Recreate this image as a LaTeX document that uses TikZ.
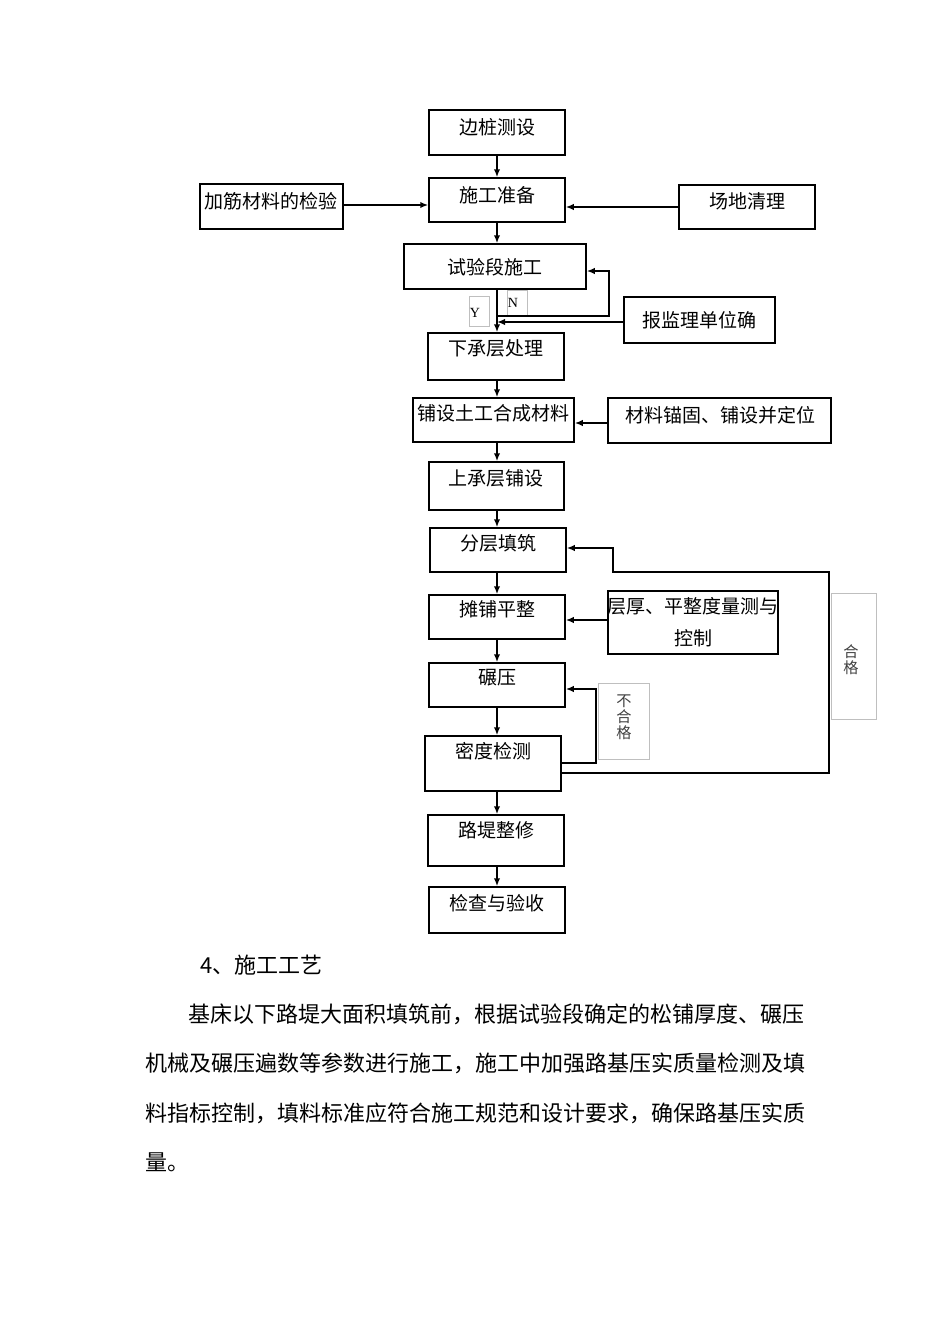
\documentclass[tikz,border=0pt]{standalone}
\usepackage{fontspec}
\setmainfont{Noto Sans CJK SC}
\newfontfamily\serifY{Liberation Serif}
\usetikzlibrary{arrows.meta,fit}
\begin{document}
\begin{tikzpicture}[x=0.5pt,y=-0.5pt,
 box/.style={draw, line width=0.75pt, inner sep=0pt},
 gbox/.style={draw=black!25, line width=0.5pt, inner sep=0pt},
 lbl/.style={font=\fontsize{9.5pt}{11pt}\selectfont, inner sep=0pt},
 vlbl/.style={font=\fontsize{7.6pt}{8pt}\selectfont, inner sep=0pt, align=center, text=black!75},
 yn/.style={font=\serifY\fontsize{7pt}{8pt}\selectfont, inner sep=0pt},
 arr/.style={line width=0.9pt, -{Latex[length=4pt,width=3.2pt]}},
 ln/.style={line width=0.9pt},
 body/.style={font=\fontsize{11pt}{13pt}\selectfont, inner sep=0pt, anchor=west}]
\fill[white] (0,0) rectangle (950,1344);
\useasboundingbox (0,0) rectangle (950,1344);

% boxes
\node[box, fit={(429,110)(565,155)}] (b1) {};
\node[lbl] at (497,127) {边桩测设};
\node[box, fit={(429,178)(565,222)}] (b2) {};
\node[lbl] at (497,195) {施工准备};
\node[box, fit={(200,184)(343,229)}] (jj) {};
\node[lbl] at (271,201) {加筋材料的检验};
\node[box, fit={(679,185)(815,229)}] (cd) {};
\node[lbl] at (747,201) {场地清理};
\node[box, fit={(404,244)(586,289)}] (b3) {};
\node[lbl] at (495,267) {试验段施工};
\node[gbox, fit={(469,296)(489,326)}] (ybox) {};
\node[yn] at (475,313) {Y};
\node[gbox, fit={(507,290)(527,315)}] (nbox) {};
\node[yn] at (513,303) {N};
\node[box, fit={(624,297)(775,343)}] (bj) {};
\node[lbl] at (699,320) {报监理单位确};
\node[box, fit={(428,333)(564,380)}] (b4) {};
\node[lbl] at (496,348) {下承层处理};
\node[box, fit={(413,398)(574,442)}] (b5) {};
\node[lbl] at (493,413) {铺设土工合成材料};
\node[box, fit={(608,398)(831,443)}] (mg) {};
\node[lbl] at (720,415) {材料锚固、铺设并定位};
\node[box, fit={(429,462)(564,510)}] (b6) {};
\node[lbl] at (496,478) {上承层铺设};
\node[box, fit={(430,528)(566,572)}] (b7) {};
\node[lbl] at (498,543) {分层填筑};
\node[box, fit={(429,595)(565,639)}] (b8) {};
\node[lbl] at (497,609) {摊铺平整};
\node[box, fit={(608,591)(778,654)}] (ch) {};
\node[lbl] at (693,606) {层厚、平整度量测与};
\node[lbl] at (693,638) {控制};
\node[box, fit={(429,663)(565,707)}] (b9) {};
\node[lbl] at (497,678) {碾压};
\node[gbox, fit={(598,683)(649,759)}] (bhg) {};
\node[vlbl] at (624,717) {不\\合\\格};
\node[box, fit={(425,736)(561,791)}] (b10) {};
\node[lbl] at (493,751) {密度检测};
\node[gbox, fit={(831,593)(876,719)}] (hg) {};
\node[vlbl] at (851,660) {合\\格};
\node[box, fit={(428,815)(564,866)}] (b11) {};
\node[lbl] at (496,830) {路堤整修};
\node[box, fit={(429,887)(565,933)}] (b12) {};
\node[lbl] at (497,903) {检查与验收};

% helper coordinates
\coordinate (n1) at (497,316);
\coordinate (n2) at (609,316);
\coordinate (n3) at (609,271);
\coordinate (r1) at (497,322);
\coordinate (q1) at (596,763);
\coordinate (q2) at (596,689);
\coordinate (p1) at (829,773);
\coordinate (p2) at (829,572);
\coordinate (p3) at (613,572);
\coordinate (p4) at (613,548);

% connectors
\draw[arr] (b1.south -| 497,0) -- (b2.north -| 497,0);
\draw[arr] (jj.east |- 0,205) -- (b2.west |- 0,205);
\draw[arr] (cd.west |- 0,207) -- (b2.east |- 0,207);
\draw[arr] (b2.south -| 497,0) -- (b3.north -| 497,0);
\draw[arr] (b3.south -| 497,0) -- (b4.north -| 497,0);
\draw[arr] (n1) -- (n2) -- (n3) -- (n3 -| b3.east);
\draw[arr] (bj.west |- r1) -- (r1);
\draw[arr] (b4.south -| 497,0) -- (b5.north -| 497,0);
\draw[arr] (mg.west |- 0,423) -- (b5.east |- 0,423);
\draw[arr] (b5.south -| 497,0) -- (b6.north -| 497,0);
\draw[arr] (b6.south -| 497,0) -- (b7.north -| 497,0);
\draw[arr] (b7.south -| 497,0) -- (b8.north -| 497,0);
\draw[arr] (ch.west |- 0,620) -- (b8.east |- 0,620);
\draw[arr] (b8.south -| 497,0) -- (b9.north -| 497,0);
\draw[arr] (b9.south -| 497,0) -- (b10.north -| 497,0);
\draw[arr] (b10.east |- q1) -- (q1) -- (q2) -- (q2 -| b9.east);
\draw[arr, line width=0.75pt] (b10.east |- p1) -- (p1) -- (p2) -- (p3) -- (p4) -- (p4 -| b7.east);
\draw[arr] (b10.south -| 497,0) -- (b11.north -| 497,0);
\draw[arr] (b11.south -| 497,0) -- (b12.north -| 497,0);

% body text
\node[body] (t0) at (200,965) {4、施工工艺};
\node[body] (t1) at (188,1014) {基床以下路堤大面积填筑前，根据试验段确定的松铺厚度、碾压};
\node[body] (t2) at (145,1063) {机械及碾压遍数等参数进行施工，施工中加强路基压实质量检测及填};
\node[body] (t3) at (145,1113) {料指标控制，填料标准应符合施工规范和设计要求，确保路基压实质};
\node[body] (t4) at (145,1162) {量。};
\end{tikzpicture}
\end{document}
